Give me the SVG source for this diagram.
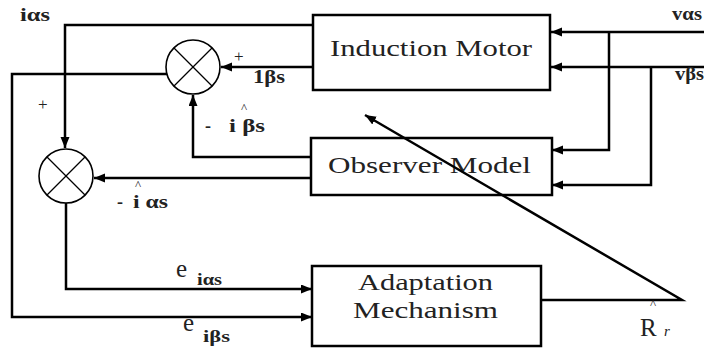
<svg xmlns="http://www.w3.org/2000/svg" width="704" height="351" viewBox="0 0 704 351">
<style>
.box{fill:#fff;stroke:#000;stroke-width:2.5}
.ln{fill:none;stroke:#000;stroke-width:2.5}
.sum{fill:#fff;stroke:#000;stroke-width:1.6}
.x{stroke:#000;stroke-width:1.3}
text{font-family:'Liberation Serif','DejaVu Serif','Times New Roman',serif;fill:#222}
.bt{font-size:23px}
.lb{font-size:17px}
.lbb{font-size:18px;font-weight:bold}
.s13{font-size:13px}
.s20{font-size:25px}
.sub{font-size:17px;font-weight:bold}
.R{font-size:25px}
.r{font-size:15px;font-style:italic}
</style>
<defs>
<marker id="ar" markerUnits="userSpaceOnUse" markerWidth="12" markerHeight="10" refX="11" refY="4.5" orient="auto">
<path d="M0,0 L11,4.5 L0,9 z" fill="#000"/>
</marker>
</defs>
<rect width="704" height="351" fill="#fff"/>
<g id="connectors">
<path class="ln" d="M704,32 H551" marker-end="url(#ar)"/>
<path class="ln" d="M704,67 H551" marker-end="url(#ar)"/>
<path class="ln" d="M609,32 V150 H552" marker-end="url(#ar)"/>
<path class="ln" d="M651,67 V185 H552" marker-end="url(#ar)"/>
<path class="ln" d="M313,67 H221" marker-end="url(#ar)"/>
<path class="ln" d="M313,25 H65 V148" marker-end="url(#ar)"/>
<path class="ln" d="M167,74 H12 V317 H312" marker-end="url(#ar)"/>
<path class="ln" d="M311,157 H193 V95" marker-end="url(#ar)"/>
<path class="ln" d="M311,178 H94" marker-end="url(#ar)"/>
<path class="ln" d="M66,203 V289 H312" marker-end="url(#ar)"/>
</g>
<g id="induction-motor">
<rect class="box" x="313" y="15" width="237" height="75"/>
<text class="bt" x="330" y="56" textLength="202" lengthAdjust="spacingAndGlyphs">Induction Motor</text>
</g>
<g id="observer-model">
<rect class="box" x="311" y="138" width="241" height="57"/>
<text class="bt" x="328" y="173" textLength="203" lengthAdjust="spacingAndGlyphs">Observer Model</text>
</g>
<g id="adaptation-mechanism">
<rect class="box" x="312" y="266" width="229" height="80"/>
<text class="bt" x="358" y="290" textLength="135" lengthAdjust="spacingAndGlyphs">Adaptation</text>
<text class="bt" x="353" y="318" textLength="145" lengthAdjust="spacingAndGlyphs">Mechanism</text>
</g>
<g id="connector-rr">
<path class="ln" d="M541,300 H682 L365,115" marker-end="url(#ar)"/>
</g>
<g id="sum-beta">
<circle class="sum" cx="193" cy="67" r="27"/>
<line class="x" x1="174" y1="48" x2="212" y2="86"/>
<line class="x" x1="212" y1="48" x2="174" y2="86"/>
</g>
<g id="sum-alpha">
<circle class="sum" cx="66" cy="176" r="27"/>
<line class="x" x1="47" y1="157" x2="85" y2="195"/>
<line class="x" x1="85" y1="157" x2="47" y2="195"/>
</g>
<g id="labels">
<text class="lbb" x="20" y="21" textLength="30" lengthAdjust="spacingAndGlyphs">iαs</text>
<text class="lb" x="38" y="110">+</text>
<text class="lbb" x="672" y="20" textLength="30" lengthAdjust="spacingAndGlyphs">vαs</text>
<text class="lbb" x="675" y="80" textLength="29" lengthAdjust="spacingAndGlyphs">vβs</text>
<text class="lb" x="234" y="62">+</text>
<text class="lbb" x="253" y="83" textLength="32" lengthAdjust="spacingAndGlyphs">1βs</text>
<text class="s13" x="241" y="112">^</text>
<text class="lbb" x="205" y="132">-</text>
<text class="lbb" x="229" y="132" textLength="36" lengthAdjust="spacingAndGlyphs">i βs</text>
<text class="s13" x="135" y="189">^</text>
<text class="lbb" x="117" y="208">-</text>
<text class="lbb" x="133" y="208" textLength="35" lengthAdjust="spacingAndGlyphs">i αs</text>
<text class="s20" x="176" y="277">e</text>
<text class="sub" x="197" y="285" textLength="25" lengthAdjust="spacingAndGlyphs">iαs</text>
<text class="s20" x="183" y="331">e</text>
<text class="sub" x="203" y="342" textLength="27" lengthAdjust="spacingAndGlyphs">iβs</text>
<text class="s13" x="650" y="308">^</text>
<text class="R" x="640" y="336">R</text>
<text class="r" x="664" y="336">r</text>
</g>
</svg>
